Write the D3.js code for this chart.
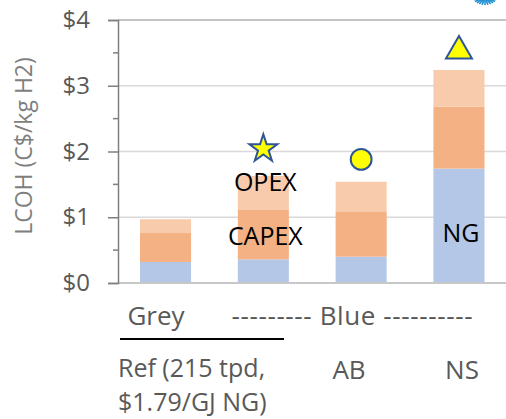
<!DOCTYPE html>
<html>
<head>
<meta charset="utf-8">
<script src="https://cdn.jsdelivr.net/npm/d3@7"></script>
<style>
  body { margin: 0; background: #fff; }
  svg { display: block; font-family: "Open Sans", sans-serif; }
</style>
</head>
<body>
<svg id="chart_svg" width="506" height="419"></svg>
<script>
// Chart data
const categories = ["Ref", "Blue", "AB", "NS"];
const ngCost = [0.32, 0.36, 0.40, 1.74];
const capexCost = [0.44, 0.76, 0.69, 0.94];
const opexCost = [0.21, 0.51, 0.45, 0.56];
const markerValues = [null, 2.04, 1.88, 3.53];
const markerShapes = [null, "star", "circle", "triangle"];
const yTicks = [0, 1, 2, 3, 4];
const yMinorTicks = [0.5, 1.5, 2.5, 3.5];
const segmentLabels = [
    { cat: "Blue", text: "OPEX", value: 1.54 },
    { cat: "Blue", text: "CAPEX", value: 0.71 },
    { cat: "NS", text: "NG", value: 0.76 }
];

const svg = d3.select("#chart_svg");

const margin = { left: 118, right: 0, top: 20, bottom: 136 };
const width = 506, height = 419;

// Scales
const xScale = d3.scaleBand()
    .domain(categories)
    .range([margin.left, 506.5])
    .paddingInner(0.478)
    .paddingOuter(0.225);

const yScale = d3.scaleLinear()
    .domain([0, 4])
    .range([283, margin.top]);

// Gridlines
svg.append("g")
    .selectAll("line")
    .data(yTicks.slice(1))
    .enter()
    .append("line")
        .attr("x1", margin.left)
        .attr("x2", width)
        .attr("y1", d => yScale(d))
        .attr("y2", d => yScale(d))
        .style("stroke", d => d == 4 ? "#b0b0b0" : "#d9d9d9")
        .style("stroke-width", 1.5);

// Stacked bars
const stackData = categories.map((c, i) => ({ cat: c, ng: ngCost[i], capex: capexCost[i], opex: opexCost[i] }));
const stacked = d3.stack().keys(["ng", "capex", "opex"])(stackData);
const colors = { ng: "#b4c7e7", capex: "#f4b183", opex: "#f8cbad" };

svg.append("g")
    .selectAll("g")
    .data(stacked)
    .enter()
    .append("g")
        .style("fill", d => colors[d.key])
    .selectAll("rect")
    .data(d => d)
    .enter()
    .append("rect")
        .attr("x", d => xScale(d.data.cat))
        .attr("width", xScale.bandwidth())
        .attr("y", d => yScale(d[1]))
        .attr("height", d => yScale(d[0]) - yScale(d[1]));

// Bottom axis line
svg.append("line")
    .attr("x1", margin.left)
    .attr("x2", width)
    .attr("y1", yScale(0))
    .attr("y2", yScale(0))
    .style("stroke", "#c8c8c8")
    .style("stroke-width", 2);

// Y axis
const yAxis = svg.append("g")
    .attr("transform", `translate(${margin.left}, 0)`)
    .call(d3.axisLeft(yScale).tickValues(yTicks).tickFormat(d => "$" + d).tickSize(10).tickPadding(18));

yAxis.select(".domain").style("stroke", "#7f7f7f").style("stroke-width", 1.5);
yAxis.selectAll(".tick line").style("stroke", "#7f7f7f").style("stroke-width", 1.5);
yAxis.selectAll(".tick text")
    .style("font-size", "24px")
    .style("fill", "#595959")
    .style("font-family", "'Open Sans', sans-serif");

svg.append("g")
    .selectAll("line")
    .data(yMinorTicks)
    .enter()
    .append("line")
        .attr("x1", margin.left - 5)
        .attr("x2", margin.left)
        .attr("y1", d => yScale(d))
        .attr("y2", d => yScale(d))
        .style("stroke", "#7f7f7f")
        .style("stroke-width", 1.5);

// Y axis title
svg.append("text")
    .attr("transform", `translate(32, 146) rotate(-90)`)
    .attr("text-anchor", "middle")
    .style("font-size", "23px")
    .style("fill", "#7f7f7f")
    .text("LCOH (C$/kg H2)");

// Markers
const symbolTypes = { star: d3.symbolStar, circle: d3.symbolCircle, triangle: d3.symbolTriangle };
const symbolSizes = { star: 240, circle: 340, triangle: 292 };
svg.append("g")
    .selectAll("path")
    .data(categories.map((c, i) => ({ cat: c, v: markerValues[i], shape: markerShapes[i] })).filter(d => d.v != null))
    .enter()
    .append("path")
        .attr("transform", d => `translate(${xScale(d.cat) + xScale.bandwidth() / 2}, ${yScale(d.v)})`)
        .attr("d", d => d3.symbol().type(symbolTypes[d.shape]).size(symbolSizes[d.shape])())
        .style("fill", "#ffff00")
        .style("stroke", "#2f5597")
        .style("stroke-width", 2);

// Segment labels
svg.append("g")
    .selectAll("text")
    .data(segmentLabels)
    .enter()
    .append("text")
        .attr("x", d => xScale(d.cat) + xScale.bandwidth() / 2 + 2)
        .attr("y", d => yScale(d.value))
        .attr("dy", "0.36em")
        .attr("text-anchor", "middle")
        .style("font-size", "25px")
        .style("fill", "#000")
        .text(d => d.text);

// Group labels under the axis
const labelStyle = sel => sel.style("font-size", "26px").style("fill", "#595959");

svg.append("text").attr("x", 156).attr("y", 325).attr("text-anchor", "middle").call(labelStyle).text("Grey");
svg.append("text").attr("x", 352).attr("y", 325).attr("text-anchor", "middle")
    .attr("textLength", 241).attr("lengthAdjust", "spacing")
    .call(labelStyle).text("--------- Blue ----------");

svg.append("line")
    .attr("x1", 120)
    .attr("x2", 284)
    .attr("y1", 339)
    .attr("y2", 339)
    .style("stroke", "#000")
    .style("stroke-width", 2);

// Two-line reference label
svg.append("text").attr("x", 118).attr("y", 377).call(labelStyle).style("font-size", "25px").text("Ref (215 tpd,");
svg.append("text").attr("x", 118).attr("y", 411).call(labelStyle).style("font-size", "25px").text("$1.79/GJ NG)");

svg.append("text").attr("x", 349).attr("y", 379).attr("text-anchor", "middle").call(labelStyle).text("AB");
svg.append("text").attr("x", 462).attr("y", 379).attr("text-anchor", "middle").call(labelStyle).text("NS");

// Cropped logo in the corner
const logo = svg.append("g").attr("transform", "translate(485, -3)");
d3.range(-70, 71, 14).forEach(a => {
    logo.append("line")
        .attr("x1", 0).attr("y1", 0)
        .attr("x2", 12 * Math.sin(a * Math.PI / 180))
        .attr("y2", 8 * Math.cos(a * Math.PI / 180))
        .style("stroke", "#1f8fd0")
        .style("stroke-width", 1.6);
});
</script>
</body>
</html>
